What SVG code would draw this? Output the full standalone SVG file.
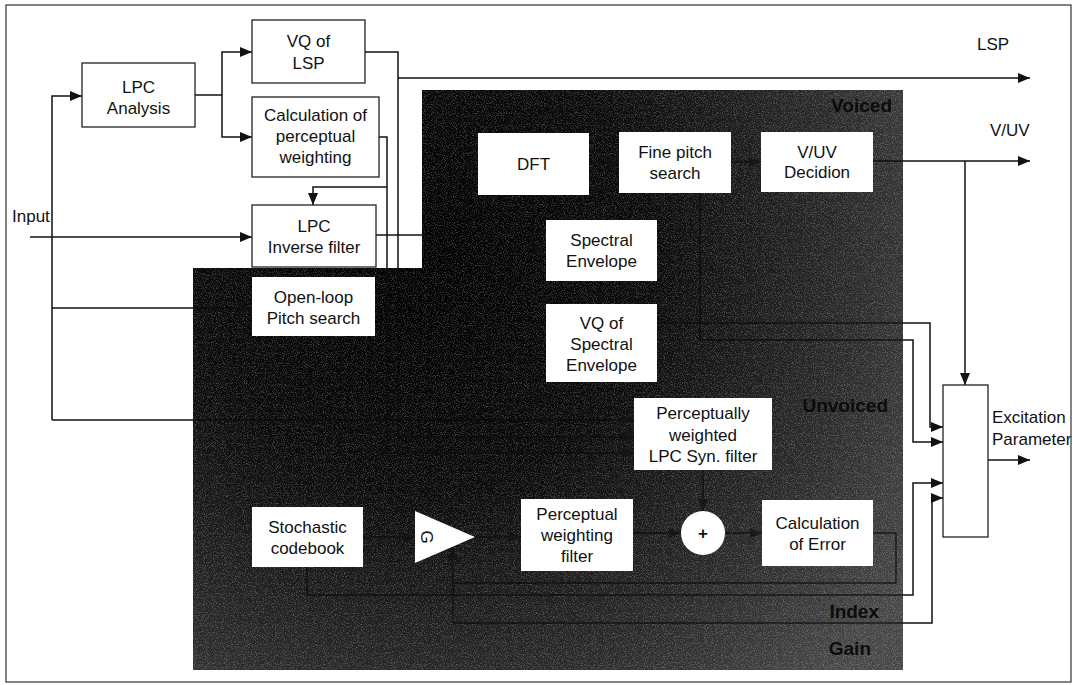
<svg xmlns="http://www.w3.org/2000/svg" width="1077" height="685" viewBox="0 0 1077 685">
<style>
  .frame{fill:#fff;stroke:#333;stroke-width:1.2}
  .box{fill:#fff;stroke:#222;stroke-width:1.3}
  .wbox{fill:#fff;stroke:none}
  .t{font-family:"Liberation Sans",Arial,sans-serif;font-size:17px;fill:#111;text-anchor:middle}
  .lbl{font-family:"Liberation Sans",Arial,sans-serif;font-size:17px;fill:#111}
  .hid{font-family:"Liberation Sans",Arial,sans-serif;font-size:19px;font-weight:bold;fill:#0c0c0c;text-anchor:end}
  .w{fill:none;stroke:#111;stroke-width:1.5}
  .d{fill:none;stroke:#0a0a0a;stroke-width:1.4;opacity:0.75}
</style>
<defs>
  <marker id="ah" markerWidth="12" markerHeight="10" refX="12" refY="5" orient="auto" markerUnits="userSpaceOnUse">
    <path d="M0,0 L12,5 L0,10 Z" fill="#111"/>
  </marker>
  <radialGradient id="dk" gradientUnits="userSpaceOnUse" cx="420" cy="260" r="580">
    <stop offset="0" stop-color="#000"/>
    <stop offset="0.4" stop-color="#0a0a0a"/>
    <stop offset="0.75" stop-color="#2a2a2a"/>
    <stop offset="1" stop-color="#464646"/>
  </radialGradient>
  <filter id="grain" x="0" y="0" width="100%" height="100%">
    <feTurbulence type="fractalNoise" baseFrequency="0.9" numOctaves="2" seed="7"/>
    <feColorMatrix type="matrix" values="0 0 0 0 1  0 0 0 0 1  0 0 0 0 1  4 0 0 0 -1.9"/>
  </filter>
  <clipPath id="dkclip">
    <path d="M422,90 H903 V670 H193 V268 H422 Z"/>
  </clipPath>
</defs>

<rect class="frame" x="6" y="5" width="1065" height="677"/>

<!-- shaded regions -->
<g id="regions">
  <path d="M422,90 H903 V670 H193 V268 H422 Z" fill="url(#dk)"/>
  <rect x="193" y="90" width="710" height="580" fill="#fff" opacity="0.22" filter="url(#grain)" clip-path="url(#dkclip)"/>
  <text class="hid" x="892" y="112">Voiced</text>
  <text class="hid" x="888" y="412">Unvoiced</text>
  <text class="hid" x="879" y="618">Index</text>
  <text class="hid" x="871" y="655">Gain</text>
</g>

<!-- connectors -->
<g id="connectors">
  <!-- input -->
  <path class="w" d="M30,237 H252" marker-end="url(#ah)"/>
  <path class="w" d="M52,420 V96 H82" marker-end="url(#ah)"/>
  <path class="w" d="M52,308 H193"/>
  <path class="d" d="M193,308 H252" marker-end="url(#ah)"/>
  <path class="w" d="M52,420 H193"/>
  <path class="d" d="M193,420 H634" marker-end="url(#ah)"/>
  <!-- LPC analysis -->
  <path class="w" d="M195,95 H222"/>
  <path class="w" d="M222,95 V52 H252" marker-end="url(#ah)"/>
  <path class="w" d="M222,95 V137 H252" marker-end="url(#ah)"/>
  <!-- VQ of LSP -->
  <path class="w" d="M365,52 H398 V268"/>
  <path class="d" d="M398,268 V437 H634" marker-end="url(#ah)"/>
  <path class="w" d="M398,78 H1030" marker-end="url(#ah)"/>
  <!-- perceptual weighting -->
  <path class="w" d="M379,137 H387 V268"/>
  <path class="d" d="M387,268 V453 H634" marker-end="url(#ah)"/>
  <path class="w" d="M387,187 H313 V205" marker-end="url(#ah)"/>
  <!-- inverse filter out -->
  <path class="w" d="M376,235 H422"/>
  <path class="d" d="M422,235 H465 V165 H478" marker-end="url(#ah)"/>
  <!-- voiced chain -->
  <path class="d" d="M589,163 H619" marker-end="url(#ah)"/>
  <path class="d" d="M731,162 H761" marker-end="url(#ah)"/>
  <path class="d" d="M533,195 V250 H546" marker-end="url(#ah)"/>
  <path class="d" d="M601,281 V304" marker-end="url(#ah)"/>
  <path class="w" d="M873,161 H1030" marker-end="url(#ah)"/>
  <path class="w" d="M965,161 V385" marker-end="url(#ah)"/>
  <path class="d" d="M657,323 H903"/>
  <path class="w" d="M903,323 H930 V427 H943" marker-end="url(#ah)"/>
  <path class="d" d="M700,193 V340 H903"/>
  <path class="w" d="M903,340 H913 V442 H943" marker-end="url(#ah)"/>
  <!-- unvoiced chain -->
  <path class="d" d="M363,537 H415" marker-end="url(#ah)"/>
  <path class="d" d="M475,537 H521" marker-end="url(#ah)"/>
  <path class="d" d="M633,533 H681" marker-end="url(#ah)"/>
  <path class="d" d="M703,470 V511" marker-end="url(#ah)"/>
  <path class="d" d="M725,533 H762" marker-end="url(#ah)"/>
  <path class="d" d="M873,533 H896 V583 H453"/>
  <path class="d" d="M307,567 V595 H903"/>
  <path class="w" d="M903,595 H913 V483 H943" marker-end="url(#ah)"/>
  <path class="d" d="M453,623 V548" marker-end="url(#ah)"/>
  <path class="d" d="M453,623 H903"/>
  <path class="w" d="M903,623 H932 V498 H943" marker-end="url(#ah)"/>
  <path class="w" d="M988,460 H1030" marker-end="url(#ah)"/>
</g>

<!-- labels -->
<g id="labels">
  <text class="lbl" x="12" y="222">Input</text>
  <text class="lbl" x="977" y="50">LSP</text>
  <text class="lbl" x="990" y="136">V/UV</text>
</g>

<g id="lpc-analysis">
  <rect class="box" x="82" y="63" width="113" height="64"/>
  <text class="t" x="138.5" y="93">LPC</text>
  <text class="t" x="138.5" y="114">Analysis</text>
</g>
<g id="vq-lsp">
  <rect class="box" x="252" y="20" width="113" height="63"/>
  <text class="t" x="308.5" y="47">VQ of</text>
  <text class="t" x="308.5" y="69">LSP</text>
</g>
<g id="calc-perceptual">
  <rect class="box" x="252" y="97" width="127" height="80"/>
  <text class="t" x="315.5" y="121">Calculation of</text>
  <text class="t" x="315.5" y="142">perceptual</text>
  <text class="t" x="315.5" y="163">weighting</text>
</g>
<g id="lpc-inverse">
  <rect class="box" x="252" y="205" width="124" height="62"/>
  <text class="t" x="314" y="232">LPC</text>
  <text class="t" x="314" y="253">Inverse filter</text>
</g>
<g id="open-loop">
  <rect class="wbox" x="252" y="277" width="123" height="59"/>
  <text class="t" x="313.5" y="303">Open-loop</text>
  <text class="t" x="313.5" y="324">Pitch search</text>
</g>
<g id="dft">
  <rect class="wbox" x="478" y="133" width="111" height="62"/>
  <text class="t" x="533.5" y="170">DFT</text>
</g>
<g id="fine-pitch">
  <rect class="wbox" x="619" y="132" width="112" height="61"/>
  <text class="t" x="675" y="158">Fine pitch</text>
  <text class="t" x="675" y="179">search</text>
</g>
<g id="vuv-decision">
  <rect class="wbox" x="761" y="132" width="112" height="60"/>
  <text class="t" x="817" y="158">V/UV</text>
  <text class="t" x="817" y="178">Decidion</text>
</g>
<g id="spectral-envelope">
  <rect class="wbox" x="546" y="220" width="111" height="61"/>
  <text class="t" x="601.5" y="246">Spectral</text>
  <text class="t" x="601.5" y="267">Envelope</text>
</g>
<g id="vq-spectral">
  <rect class="wbox" x="546" y="304" width="111" height="78"/>
  <text class="t" x="601.5" y="329">VQ of</text>
  <text class="t" x="601.5" y="350">Spectral</text>
  <text class="t" x="601.5" y="371">Envelope</text>
</g>
<g id="pw-lpc-syn">
  <rect class="wbox" x="634" y="398" width="138" height="72"/>
  <text class="t" x="703" y="419">Perceptually</text>
  <text class="t" x="703" y="441">weighted</text>
  <text class="t" x="703" y="462">LPC Syn. filter</text>
</g>
<g id="stochastic">
  <rect class="wbox" x="252" y="507" width="111" height="60"/>
  <text class="t" x="307.5" y="533">Stochastic</text>
  <text class="t" x="307.5" y="554">codebook</text>
</g>
<g id="gain-amp">
  <path d="M415,511 L475,537 L415,563 Z" fill="#fff"/>
  <text class="t" x="0" y="0" transform="translate(427,537) rotate(90)" dy="6">G</text>
</g>
<g id="pw-filter">
  <rect class="wbox" x="521" y="499" width="112" height="72"/>
  <text class="t" x="577" y="520">Perceptual</text>
  <text class="t" x="577" y="541">weighting</text>
  <text class="t" x="577" y="562">filter</text>
</g>
<g id="adder">
  <circle cx="703" cy="533" r="22" fill="#fff"/>
  <text class="t" x="703" y="539" style="font-weight:bold">+</text>
</g>
<g id="calc-error">
  <rect class="wbox" x="762" y="500" width="111" height="66"/>
  <text class="t" x="817.5" y="529">Calculation</text>
  <text class="t" x="817.5" y="550">of Error</text>
</g>
<g id="excitation">
  <rect class="box" x="943" y="385" width="45" height="152"/>
  <text class="lbl" x="992" y="423">Excitation</text>
  <text class="lbl" x="992" y="445">Parameter</text>
</g>
</svg>
